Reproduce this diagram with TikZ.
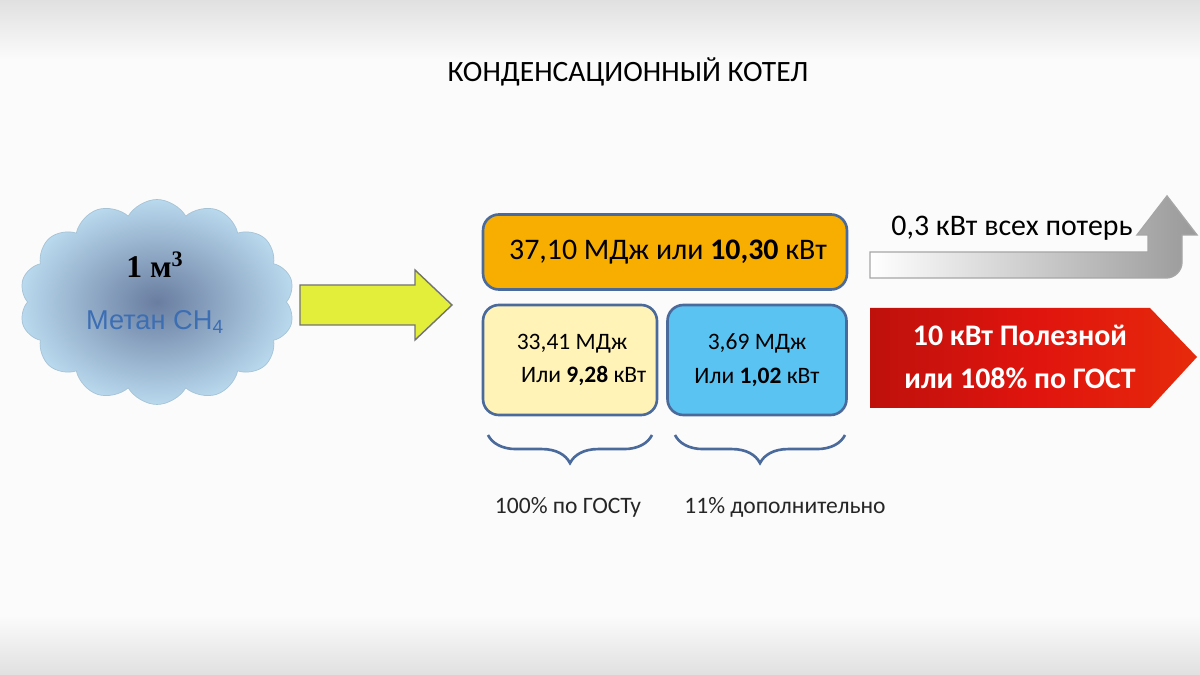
\documentclass[tikz,border=0pt]{standalone}
\usepackage{fontspec}
\setmainfont{Carlito}
\newfontfamily\serifb{Liberation Serif}
\newfontfamily\arialf{Liberation Sans}
\usetikzlibrary{shapes.symbols,decorations.pathreplacing}
\definecolor{bordb}{HTML}{4A6A9C}
\definecolor{orangeb}{HTML}{F7AE00}
\definecolor{yellb}{HTML}{FFF3B8}
\definecolor{blueb}{HTML}{5AC3F2}
\definecolor{redb}{HTML}{E0140E}
\definecolor{textblue}{HTML}{3C6EB4}
\definecolor{cloudin}{RGB}{105,125,160}
\definecolor{cloudout}{RGB}{185,217,238}
\definecolor{arrowy}{HTML}{E2EE3A}
\tikzset{box/.style={draw=bordb,line width=1.5pt,rounded corners=9pt},
 lbl/.style={font=\fontsize{13.4}{15}\selectfont,text=black!85}}
\begin{document}
\begin{tikzpicture}[x=0.02cm,y=-0.02cm]
\useasboundingbox (0,0) rectangle (1200,675);
\shade[top color=black!12,bottom color=white!97!gray] (0,0) rectangle (1200,60);
\fill[white!97!gray] (0,60) rectangle (1200,615);
\shade[top color=white!97!gray,bottom color=black!12] (0,615) rectangle (1200,675);
\node[font=\fontsize{16.8}{19}\selectfont] (title) at (628,72) {КОНДЕНСАЦИОННЫЙ КОТЕЛ};
% cloud
\node[cloud,cloud puffs=14,cloud puff arc=120,aspect=1.45,
 draw=cloudout!90!black,inner color=cloudin,outer color=cloudout,
 minimum width=5.5cm,minimum height=4.1cm] (cloud) at (157,302) {};
\node[font=\serifb\bfseries\fontsize{18}{20}\selectfont] (m3) at (155,265) {1 м\textsuperscript{3}};
\node[text=textblue,font=\arialf\fontsize{15.5}{18}\selectfont] (met) at (155,322) {Метан CH\textsubscript{4}};
% yellow arrow
\draw[black!55,line width=0.8pt,fill=arrowy] (300,285) -- (415,285) -- (415,270) -- (452,305) -- (415,340) -- (415,325) -- (300,325) -- cycle;
% boxes
\node[box,fill=orangeb,minimum width=7.28cm,minimum height=1.5cm] (top) at (665,252) {};
\node[font=\fontsize{17}{20}\selectfont] (toptxt) at (668,252) {37,10 МДж или \textbf{10,30} кВт};
\node[box,fill=yellb,minimum width=3.48cm,minimum height=2.2cm] (yb) at (570,360) {};
\node[align=center,font=\fontsize{13.4}{19}\selectfont] (ybt) at (572,360) {33,41 МДж\\ \quad Или \textbf{9,28} кВт};
\node[box,fill=blueb,minimum width=3.58cm,minimum height=2.2cm] (bb) at (757,360) {};
\node[align=center,font=\fontsize{13.4}{19}\selectfont] (bbt) at (757,360) {3,69 МДж\\ Или \textbf{1,02} кВт};
% braces
\draw[bordb,line width=1.5pt,decorate,decoration={brace,mirror,amplitude=16pt}] (488,435) -- (652,435);
\draw[bordb,line width=1.5pt,decorate,decoration={brace,mirror,amplitude=16pt}] (675,435) -- (845,435);
\node[lbl] (l1) at (568,507) {100\% по ГОСТу};
\node[lbl] (l2) at (785,507) {11\% дополнительно};
% gray arrow
\shade[left color=white,right color=black!40,draw=black!35,line width=0.8pt]
 (870,252) -- (1148,252) -- (1148,235) -- (1137,235) -- (1167,196) -- (1197,235) -- (1182,235) -- (1182,262) arc[start angle=0,end angle=90,radius=16] -- (870,278) -- cycle;
\node[font=\fontsize{17}{20}\selectfont] (loss) at (1012,228) {0,3 кВт всех потерь};
% red arrow
\shade[left color=redb!85!black,right color=redb!80!orange,middle color=redb] (870,308) -- (1150,308) -- (1197,357) -- (1150,408) -- (870,408) -- cycle;
\node[text=white,align=center,font=\bfseries\fontsize{17}{24}\selectfont] (red) at (1020,357) {10 кВт Полезной\\ или 108\% по ГОСТ};
\end{tikzpicture}
\end{document}
